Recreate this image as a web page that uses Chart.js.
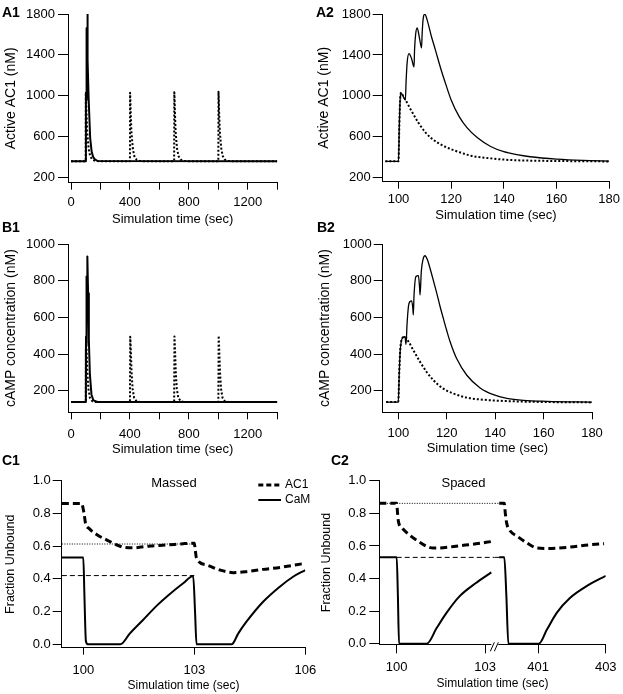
<!DOCTYPE html>
<html>
<head>
<meta charset="utf-8">
<script src="https://cdn.jsdelivr.net/npm/chart.js@4.4.0/dist/chart.umd.min.js"></script>
<style>
  html, body { margin: 0; padding: 0; background: #fff; overflow: hidden; }
  #fig { position: relative; width: 623px; height: 694px; }
  canvas { position: absolute; }
  .lbl { position: absolute; font: bold 14px "Liberation Sans", Arial, sans-serif; line-height: 14px; color: #000; }
</style>
</head>
<body>
<div id="fig">
  <canvas id="a1" width="311" height="230" style="left:0px;top:0px"></canvas>
  <canvas id="a2" width="312" height="230" style="left:311px;top:0px"></canvas>
  <canvas id="b1" width="311" height="235" style="left:0px;top:225px"></canvas>
  <canvas id="b2" width="312" height="235" style="left:311px;top:225px"></canvas>
  <canvas id="c1" width="330" height="234" style="left:0px;top:460px"></canvas>
  <canvas id="c2" width="312" height="234" style="left:311px;top:460px"></canvas>
  <div class="lbl" style="left:2px;top:5px">A1</div>
  <div class="lbl" style="left:316px;top:5px">A2</div>
  <div class="lbl" style="left:2px;top:220px">B1</div>
  <div class="lbl" style="left:317px;top:220px">B2</div>
  <div class="lbl" style="left:2px;top:453px">C1</div>
  <div class="lbl" style="left:331px;top:453px">C2</div>
</div>
<script>
// ---- A1: active AC1, whole run (solid = massed, dotted = spaced)
const longXTicks = [0, 200, 400, 600, 800, 1000, 1200, 1400];
const longXLabels = [0, 400, 800, 1200];
const ac1YTicks = [200, 600, 1000, 1400, 1800];
const a1MassedT = [0, 100, 101, 103, 104, 106, 107, 109, 110, 115, 120, 130, 140, 150, 160, 180, 1400];
const a1MassedV = [360, 360, 1030, 960, 1410, 1280, 1660, 1470, 1800, 1350, 960, 590, 455, 405, 382, 363, 360];
const a1SpacedT = [0, 100, 101, 103, 105, 110, 115, 120, 130, 145, 170,
                   400, 401, 403, 405, 410, 415, 420, 430, 445, 470,
                   700, 701, 703, 705, 710, 715, 720, 730, 745, 770,
                   1000, 1001, 1003, 1005, 1010, 1015, 1020, 1030, 1045, 1070, 1400];
const a1SpacedV = [360, 360, 1030, 958, 844, 649, 560, 480, 410, 375, 362,
                   360, 1030, 958, 844, 649, 560, 480, 410, 375, 362,
                   360, 1035, 960, 846, 650, 560, 480, 410, 375, 362,
                   360, 1040, 965, 848, 652, 562, 482, 410, 375, 362, 360];

// ---- A2: active AC1, zoom on 95-180 s
const shortXTicks = [100, 120, 140, 160, 180];
const a2MassedT = [95, 100, 100.3, 100.6, 100.9, 101.7, 102.6, 102.9, 103.3, 104, 105, 105.9, 106.1, 106.5, 107.1, 108, 108.75,
                   109, 109.4, 110, 111, 112.5, 114, 116, 118, 120, 123, 126, 130, 135, 140, 145, 150, 160, 170, 180];
const a2MassedV = [360, 360, 700, 950, 1030, 1000, 958, 1150, 1330, 1413, 1360, 1283, 1450, 1600, 1663, 1560, 1468,
                   1620, 1760, 1800, 1730, 1580, 1450, 1270, 1110, 960, 800, 690, 590, 505, 454, 425, 405, 382, 369, 363];
const a2SpacedT = [95, 100, 100.3, 100.6, 100.9, 101.5, 102.7, 105, 107.5, 110, 112.5, 115, 117.5, 120, 122.5, 127.5, 135, 142.5, 155, 170, 180];
const a2SpacedV = [360, 360, 700, 950, 1030, 1010, 958, 850, 740, 650, 585, 540, 505, 478, 455, 415, 389, 373, 365, 361, 359];

// ---- B1: cAMP, whole run
const campYTicks = [200, 400, 600, 800, 1000];
const b1MassedT = [0, 100, 101, 102, 103.2, 104.8, 106.2, 107.3, 109, 111, 116, 121, 128, 139, 152, 180, 1400];
const b1MassedV = [138, 138, 420, 489, 452, 686, 613, 823, 722, 932, 731, 480, 290, 178, 147, 138, 138];
const b1SpacedT = [0, 100, 102, 106, 111, 118, 128, 145, 170,
                   400, 402, 406, 411, 418, 428, 445, 470,
                   700, 702, 706, 711, 718, 728, 745, 770,
                   1000, 1002, 1006, 1011, 1018, 1028, 1045, 1070, 1400];
const b1SpacedV = [138, 138, 494, 421, 302, 211, 162, 142, 138,
                   138, 494, 421, 302, 211, 162, 142, 138,
                   138, 496, 422, 303, 211, 162, 142, 138,
                   138, 500, 424, 304, 212, 162, 142, 138, 138];

// ---- B2: cAMP, zoom on 95-180 s
const b2MassedT = [95, 100, 100.4, 100.8, 101.8, 102.75, 103.2, 103.6, 104.2, 104.8, 105.5, 106, 106.2, 106.5, 107.3, 108.3, 108.8,
                   109, 109.5, 110.2, 111, 112, 113.1, 114.5, 115.9, 117.2, 118.6, 120, 121.4, 124.1, 128.3, 133.8, 139.3,
                   144.8, 151.7, 161.4, 180];
const b2MassedV = [138, 138, 300, 420, 489, 494, 452, 560, 660, 686, 690, 650, 613, 720, 823, 828, 760,
                   722, 850, 915, 936, 915, 868, 800, 731, 662, 594, 528, 467, 375, 284, 215, 178,
                   158, 147, 142, 138];
const b2SpacedT = [95, 100, 100.4, 100.8, 101.8, 102.75, 104.1, 106.2, 109, 111.7, 114.5, 118.6, 122.8, 128.3, 136.6, 147.6, 161.4, 180];
const b2SpacedV = [138, 138, 300, 420, 489, 494, 470, 421, 357, 302, 257, 211, 184, 162, 149, 142, 138, 136];

// ---- C1: fraction unbound, massed
const fracYTicks = [0, 0.2, 0.4, 0.6, 0.8, 1.0];
const c1XTicks = [100, 103, 106];
const c1AC1T = [99.42, 99.95, 100.02, 100.06, 100.15, 100.38, 100.64, 100.91, 101.09, 101.36, 101.81, 102.26, 102.7, 103,
                103.02, 103.06, 103.33, 103.69, 104.05, 104.41, 104.86, 105.31, 106];
const c1AC1V = [0.861, 0.861, 0.80, 0.739, 0.709, 0.668, 0.637, 0.607, 0.593, 0.59, 0.601, 0.607, 0.615, 0.618,
                0.587, 0.526, 0.485, 0.454, 0.438, 0.444, 0.458, 0.47, 0.495];
const c1CaMT = [99.42, 100, 100.03, 100.07, 100.12, 101.0, 101.26, 101.62, 101.98, 102.3, 102.7, 102.97,
                103.02, 103.06, 104.01, 104.19, 104.41, 104.86, 105.31, 105.67, 106];
const c1CaMV = [0.53, 0.53, 0.3, 0.02, 0, 0, 0.067, 0.15, 0.235, 0.3, 0.373, 0.417,
                0.2, 0, 0, 0.067, 0.138, 0.26, 0.352, 0.413, 0.454];
const c1RefT = [99.42, 103];
const c1RefAC1 = [0.613, 0.613];
const c1RefCaM = [0.42, 0.42];

// ---- C2: fraction unbound, spaced (broken time axis)
const c2LeftTicks = [100, 103];
const c2RightTicks = [401, 403];
const c2AC1LeftT = [99.41, 100, 100.03, 100.06, 100.19, 100.47, 100.74, 101.02, 101.24, 101.58, 102.13, 102.69, 103.21];
const c2AC1LeftV = [0.861, 0.861, 0.80, 0.749, 0.709, 0.662, 0.627, 0.597, 0.587, 0.589, 0.601, 0.613, 0.627];
const c2CaMLeftT = [99.41, 100, 100.04, 100.08, 101.02, 101.36, 101.69, 102.13, 102.69, 103.21];
const c2CaMLeftV = [0.53, 0.53, 0.3, 0, 0, 0.098, 0.19, 0.291, 0.373, 0.438];
const c2AC1RightT = [399.85, 400, 400.03, 400.07, 400.15, 400.39, 400.68, 400.97, 401.26, 401.94, 402.52, 402.95];
const c2AC1RightV = [0.861, 0.861, 0.80, 0.74, 0.699, 0.658, 0.617, 0.587, 0.584, 0.593, 0.607, 0.614];
const c2CaMRightT = [399.85, 400, 400.06, 400.12, 401.02, 401.26, 401.55, 401.94, 402.42, 403];
const c2CaMRightV = [0.53, 0.53, 0.3, 0, 0, 0.087, 0.19, 0.281, 0.352, 0.417];
const c2RefLeftT = [99.41, 103.33];
const c2RefCaMLeftT = [100, 103.33];
const c2RefRightT = [399.72, 400];
const c2RefAC1 = [0.861, 0.861];
const c2RefCaM = [0.53, 0.53];

const FONT = '"Liberation Sans", Arial, sans-serif';

function pts(ts, vs) {
  return ts.map((t, i) => ({x: t, y: vs[i]}));
}

function line(data, width, dash, axis, smooth) {
  return {
    data: data,
    xAxisID: axis || 'x',
    borderColor: '#000',
    borderWidth: width,
    borderDash: dash || [],
    borderJoinStyle: 'round',
    borderCapStyle: 'butt',
    pointRadius: 0,
    fill: false,
    cubicInterpolationMode: smooth ? 'monotone' : 'default'
  };
}

function yScale(o) {
  return {
    type: 'linear', position: 'left', min: o.min, max: o.max, bounds: 'data',
    afterBuildTicks: s => { s.ticks = o.ticks.map(v => ({value: v})); },
    afterFit: s => { s.width = o.width; },
    grid: {drawOnChartArea: false, drawTicks: true, tickLength: o.tick, color: '#000', lineWidth: 1},
    border: {display: true, color: '#000', width: 1},
    ticks: {color: '#000', font: {family: FONT, size: 13}, padding: o.pad,
            callback: o.fmt || (v => String(v))},
    title: {display: true, text: o.title, color: '#000',
            font: {family: FONT, size: o.tsize, lineHeight: 1}, padding: {top: o.tpad, bottom: 0}}
  };
}

function xScale(o) {
  const s = {
    type: 'linear', position: 'bottom', min: o.min, max: o.max, bounds: 'data',
    afterBuildTicks: sc => { sc.ticks = o.ticks.map(v => ({value: v})); },
    afterFit: sc => { sc.height = o.height; },
    grid: {drawOnChartArea: false, drawTicks: true, tickLength: o.tick, color: '#000', lineWidth: 1},
    border: {display: true, color: '#000', width: 1},
    ticks: {color: '#000', font: {family: FONT, size: 13}, padding: o.pad, maxRotation: 0, autoSkip: false,
            callback: v => (!o.labels || o.labels.includes(v)) ? String(v) : ''},
    title: {display: !!o.title, text: o.title || '', color: '#000',
            font: {family: FONT, size: o.tsize || 13, lineHeight: 1}, padding: {top: 0, bottom: 0}}
  };
  if (o.stack) { s.stack = o.stack; s.stackWeight = o.weight; }
  return s;
}

function makeChart(id, datasets, scales, padding, extra) {
  return new Chart(document.getElementById(id), {
    type: 'line',
    data: {datasets: datasets},
    options: {
      responsive: false, animation: false, events: [],
      layout: {padding: padding},
      plugins: {legend: {display: false}, tooltip: {enabled: false}},
      scales: scales
    },
    plugins: extra ? [extra] : []
  });
}

const DOT = [2, 2];

// A1
makeChart('a1', [
  line(pts(a1MassedT, a1MassedV), 2),
  line(pts(a1SpacedT, a1SpacedV), 2, DOT)
], {
  x: xScale({min: -20.4, max: 1400, ticks: longXTicks, labels: longXLabels, height: 42.8, tick: 7, pad: 5,
             title: 'Simulation time (sec)'}),
  y: yScale({min: 151, max: 1800, ticks: ac1YTicks, width: 68, tick: 10, pad: 3,
             title: 'Active AC1 (nM)', tsize: 14, tpad: 4})
}, {left: 0, top: 14, right: 33.7, bottom: 4.5});

// A2
makeChart('a2', [
  line(pts(a2MassedT, a2MassedV), 1.3, null, 'x', true),
  line(pts(a2SpacedT, a2SpacedV), 2, DOT, 'x', true)
], {
  x: xScale({min: 94, max: 180, ticks: shortXTicks, height: 39.8, tick: 7, pad: 3,
             title: 'Simulation time (sec)'}),
  y: yScale({min: 161, max: 1800, ticks: ac1YTicks, width: 71.7, tick: 10, pad: 2,
             title: 'Active AC1 (nM)', tsize: 14, tpad: 6})
}, {left: 0, top: 14, right: 11, bottom: 8.5});

// B1
makeChart('b1', [
  line(pts(b1MassedT, b1MassedV), 2),
  line(pts(b1SpacedT, b1SpacedV), 2, DOT)
], {
  x: xScale({min: -20.4, max: 1400, ticks: longXTicks, labels: longXLabels, height: 43.2, tick: 7, pad: 7,
             title: 'Simulation time (sec)'}),
  y: yScale({min: 82, max: 1000, ticks: campYTicks, width: 68, tick: 10, pad: 3,
             title: 'cAMP concentration (nM)', tsize: 14, tpad: 4})
}, {left: 0, top: 19, right: 33.7, bottom: 4.5});

// B2
makeChart('b2', [
  line(pts(b2MassedT, b2MassedV), 1.3, null, 'x', true),
  line(pts(b2SpacedT, b2SpacedV), 2, DOT, 'x', true)
], {
  x: xScale({min: 93.56, max: 180, ticks: shortXTicks, height: 42.5, tick: 7, pad: 6,
             title: 'Simulation time (sec)'}),
  y: yScale({min: 82, max: 1000, ticks: campYTicks, width: 71.7, tick: 9, pad: 2,
             title: 'cAMP concentration (nM)', tsize: 14, tpad: 7})
}, {left: 0, top: 19, right: 31, bottom: 5.2});

// C1 (massed) with legend
const c1Notes = {
  id: 'c1Notes',
  afterDraw(chart) {
    const ctx = chart.ctx;
    ctx.save();
    ctx.fillStyle = '#000';
    ctx.strokeStyle = '#000';
    ctx.font = '13px ' + FONT;
    ctx.textAlign = 'center';
    ctx.textBaseline = 'middle';
    ctx.fillText('Massed', 174, 23);
    ctx.lineWidth = 3;
    ctx.setLineDash([5, 3]);
    ctx.beginPath(); ctx.moveTo(258.3, 25); ctx.lineTo(281, 25); ctx.stroke();
    ctx.lineWidth = 2;
    ctx.setLineDash([]);
    ctx.beginPath(); ctx.moveTo(258.3, 40); ctx.lineTo(281, 40); ctx.stroke();
    ctx.font = '12px ' + FONT;
    ctx.textAlign = 'left';
    ctx.fillText('AC1', 285, 25);
    ctx.fillText('CaM', 285, 40);
    ctx.restore();
  }
};
makeChart('c1', [
  line(pts(c1CaMT, c1CaMV), 2, null, 'x', true),
  line(pts(c1AC1T, c1AC1V), 3, [7, 4], 'x', true),
  line(pts(c1RefT, c1RefAC1), 1, [1, 1.5]),
  line(pts(c1RefT, c1RefCaM), 1, [5, 3])
], {
  x: xScale({min: 99.416, max: 106, ticks: c1XTicks, height: 44.3, tick: 7, pad: 7.5,
             title: 'Simulation time (sec)', tsize: 12}),
  y: yScale({min: -0.0208, max: 1.0, ticks: fracYTicks, width: 61.7, tick: 9, pad: 2,
             fmt: v => v.toFixed(1), title: 'Fraction Unbound', tsize: 12.5, tpad: 4.75})
}, {left: 0, top: 20.7, right: 24.7, bottom: 2}, c1Notes);

// C2 (spaced) with broken time axis: two stacked x scales side by side
const c2Notes = {
  id: 'c2Notes',
  afterDraw(chart) {
    const ctx = chart.ctx;
    const bx = chart.scales.x.right;
    const by = chart.chartArea.bottom;
    ctx.save();
    ctx.fillStyle = '#000';
    ctx.font = '13px ' + FONT;
    ctx.textAlign = 'center';
    ctx.textBaseline = 'middle';
    ctx.fillText('Spaced', 152.5, 23);
    ctx.fillStyle = '#fff';
    ctx.fillRect(bx - 3.5, by - 1.5, 7, 3);
    ctx.strokeStyle = '#000';
    ctx.lineWidth = 1;
    ctx.beginPath();
    ctx.moveTo(bx - 4.5, by + 7); ctx.lineTo(bx - 0.5, by - 2);
    ctx.moveTo(bx - 0.5, by + 7); ctx.lineTo(bx + 3.5, by - 2);
    ctx.stroke();
    ctx.restore();
  }
};
makeChart('c2', [
  line(pts(c2CaMLeftT, c2CaMLeftV), 2, null, 'x', true),
  line(pts(c2CaMRightT, c2CaMRightV), 2, null, 'x2', true),
  line(pts(c2AC1LeftT, c2AC1LeftV), 3, [7, 4], 'x', true),
  line(pts(c2AC1RightT, c2AC1RightV), 3, [7, 4], 'x2', true),
  line(pts(c2RefLeftT, c2RefAC1), 1, [1, 1.5]),
  line(pts(c2RefRightT, c2RefAC1), 1, [1, 1.5], 'x2'),
  line(pts(c2RefCaMLeftT, c2RefCaM), 1, [5, 3]),
  line(pts(c2RefRightT, c2RefCaM), 1, [5, 3], 'x2')
], {
  x: xScale({min: 99.41, max: 103.33, ticks: c2LeftTicks, height: 31, tick: 9, pad: 6.4,
             stack: 'time', weight: 117.7}),
  x2: xScale({min: 399.72, max: 403, ticks: c2RightTicks, height: 31, tick: 9, pad: 6.4,
              stack: 'time', weight: 113}),
  xt: {
    type: 'linear', position: 'bottom', weight: 1, min: 0, max: 1,
    afterFit: s => { s.height = 14.7; },
    grid: {display: false}, border: {display: false}, ticks: {display: false},
    title: {display: true, text: 'Simulation time (sec)', color: '#000',
            font: {family: FONT, size: 12, lineHeight: 1}, padding: {top: 0, bottom: 0}}
  },
  y: yScale({min: -0.003, max: 1.0, ticks: fracYTicks, width: 68.3, tick: 10, pad: 3,
             fmt: v => v.toFixed(1), title: 'Fraction Unbound', tsize: 12.5, tpad: 9.75})
}, {left: 0, top: 20.7, right: 13, bottom: 4}, c2Notes);
</script>
</body>
</html>
